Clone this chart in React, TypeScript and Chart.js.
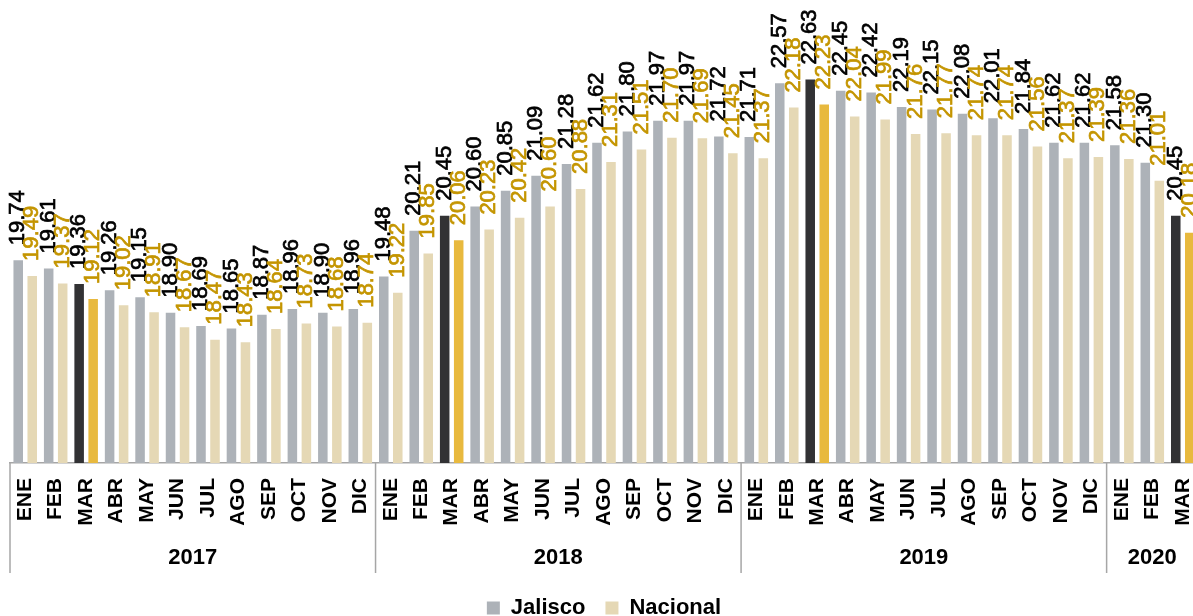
import React, { useEffect, useRef } from "react";
import { Chart, registerables } from "chart.js";

Chart.register(...registerables);

const monthNames = ["ENE", "FEB", "MAR", "ABR", "MAY", "JUN", "JUL", "AGO", "SEP", "OCT", "NOV", "DIC"];
const years = ["2017", "2018", "2019", "2020"];
const monthsInYear = [12, 12, 12, 3];
const highlightMonth = "MAR";

const jalisco = [
  19.74, 19.61, 19.36, 19.26, 19.15, 18.9, 18.69, 18.65, 18.87, 18.96, 18.9, 18.96,
  19.48, 20.21, 20.45, 20.6, 20.85, 21.09, 21.28, 21.62, 21.8, 21.97, 21.97, 21.72,
  21.71, 22.57, 22.63, 22.45, 22.42, 22.19, 22.15, 22.08, 22.01, 21.84, 21.62, 21.62,
  21.58, 21.3, 20.45,
];
const nacional = [
  19.49, 19.37, 19.12, 19.02, 18.91, 18.67, 18.47, 18.43, 18.64, 18.73, 18.68, 18.74,
  19.22, 19.85, 20.06, 20.23, 20.42, 20.6, 20.88, 21.31, 21.51, 21.7, 21.69, 21.45,
  21.37, 22.18, 22.23, 22.04, 21.99, 21.76, 21.77, 21.74, 21.74, 21.56, 21.37, 21.39,
  21.36, 21.01, 20.18,
];

const seriesNames = ["Jalisco", "Nacional"];
const baseColors = ["#ADB2B8", "#E5D8B5"];
const highlightColors = ["#323234", "#E8B93E"];
const labelColors = ["#000000", "#C49500"];

const FONT = "'Liberation Sans', Arial, sans-serif";

const categories = years.flatMap((_, i) => monthNames.slice(0, monthsInYear[i]));

const valueLabelsPlugin = {
  id: "valueLabels",
  afterDatasetsDraw(chart: any) {
    const ctx = chart.ctx;
    chart.data.datasets.forEach((ds: any, i: number) => {
      const meta = chart.getDatasetMeta(i);
      meta.data.forEach((bar: any, j: number) => {
        const txt = Number(ds.data[j]).toFixed(2);
        ctx.save();
        ctx.translate(bar.x, bar.y - 15);
        ctx.rotate(-Math.PI / 2);
        ctx.font = `22px ${FONT}`;
        ctx.fillStyle = labelColors[i];
        ctx.strokeStyle = labelColors[i];
        ctx.lineWidth = 0.7;
        ctx.textAlign = "left";
        ctx.textBaseline = "middle";
        ctx.fillText(txt, 0, 0);
        ctx.strokeText(txt, 0, 0);
        ctx.restore();
      });
    });
  },
};

const yearGroupsPlugin = {
  id: "yearGroups",
  afterDraw(chart: any) {
    const ctx = chart.ctx;
    const xs = chart.scales.x;
    const bottom = chart.chartArea.bottom;
    const half = (xs.getPixelForValue(1) - xs.getPixelForValue(0)) / 2;
    let idx = 0;
    ctx.save();
    ctx.strokeStyle = "#A6A6A6";
    ctx.lineWidth = 1.5;
    ctx.fillStyle = "#000";
    ctx.font = `bold 22px ${FONT}`;
    ctx.textAlign = "center";
    ctx.textBaseline = "middle";
    years.forEach((yr, i) => {
      const n = monthsInYear[i];
      const start = xs.getPixelForValue(idx) - half;
      const end = xs.getPixelForValue(idx + n - 1) + half;
      ctx.beginPath();
      ctx.moveTo(start, bottom);
      ctx.lineTo(start, bottom + 110);
      ctx.stroke();
      if (i === years.length - 1) {
        ctx.beginPath();
        ctx.moveTo(end, bottom);
        ctx.lineTo(end, bottom + 110);
        ctx.stroke();
      }
      ctx.fillText(yr, (start + end) / 2, bottom + 95);
      idx += n;
    });
    ctx.restore();
  },
};

export default function App() {
  const canvasRef = useRef<HTMLCanvasElement | null>(null);

  useEffect(() => {
    if (!canvasRef.current) return;
    const chart = new Chart(canvasRef.current, {
      type: "bar",
      data: {
        labels: categories,
        datasets: [jalisco, nacional].map((vals, i) => ({
          label: seriesNames[i],
          data: vals,
          backgroundColor: categories.map((m) => (m === highlightMonth ? highlightColors[i] : baseColors[i])),
          categoryPercentage: 0.92,
          barPercentage: 0.68,
        })),
      },
      options: {
        responsive: false,
        animation: false,
        layout: { padding: { left: 10, right: 2, top: 0, bottom: 0 } },
        scales: {
          x: {
            grid: { display: false, drawTicks: false },
            border: { display: true, color: "#A6A6A6", width: 1.5 },
            ticks: {
              minRotation: 90,
              maxRotation: 90,
              autoSkip: false,
              padding: 15,
              color: "#000",
              font: { family: FONT, size: 21, weight: "bold" },
            },
            afterFit: (s: any) => {
              s.height = 114;
              s.paddingLeft = 0;
              s.paddingRight = 0;
            },
          },
          y: { display: false, min: 16.5, max: 23.9 },
        },
        plugins: {
          tooltip: { enabled: false },
          legend: {
            position: "bottom",
            labels: {
              boxWidth: 13,
              boxHeight: 13,
              padding: 20,
              color: "#000",
              font: { family: FONT, size: 22, weight: "bold" },
              generateLabels: () =>
                seriesNames.map((name, i) => ({
                  text: name,
                  fillStyle: baseColors[i],
                  strokeStyle: baseColors[i],
                  lineWidth: 0,
                  hidden: false,
                  datasetIndex: i,
                  fontColor: "#000",
                })),
            },
          },
        },
      } as any,
      plugins: [valueLabelsPlugin, yearGroupsPlugin],
    });
    return () => chart.destroy();
  }, []);

  return (
    <div style={{ position: "fixed", left: 0, top: 0, width: 1193, height: 616, overflow: "hidden", background: "#fff" }}>
      <canvas ref={canvasRef} width={1200} height={629} style={{ display: "block" }} />
    </div>
  );
}
